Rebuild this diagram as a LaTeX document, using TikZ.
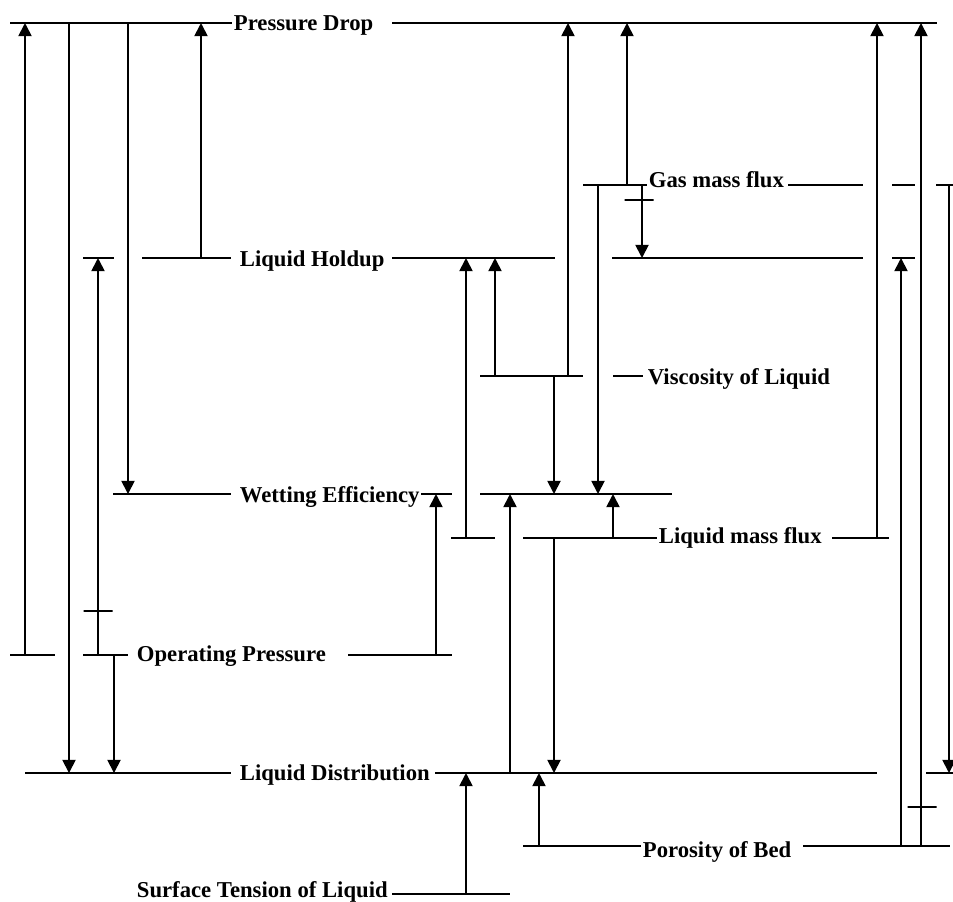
\documentclass[tikz,border=0pt]{standalone}
\usepackage{fontspec}
\setmainfont{Liberation Serif}
\usetikzlibrary{arrows.meta}
\tikzset{
  lvl/.style={anchor=base west, inner sep=0pt, font=\fontsize{11.35}{13}\selectfont\bfseries},
  link/.style={-{Triangle[width=6.6pt,length=6.6pt]}},
  tick/.style={draw, minimum width=14.5pt, minimum height=0pt, inner sep=0pt}
}
\begin{document}
\begin{tikzpicture}[x=0.5pt, y=-0.5pt, line width=0.9pt]
    \useasboundingbox (0,0) rectangle (953,901);
    \foreach \n/\y in {pd/23, gf/185, lh/258, vl/376, we/494, lf/538, op/655, ld/773, pb/846, st/894}
    {\coordinate (\n) at (0,\y);}
    \node[lvl] (pdrop) at (233,30.5) {Pressure Drop};
    \node[lvl] (gasflux) at (648,187.5) {Gas mass flux};
    \node[lvl] (holdup) at (239,266.5) {Liquid Holdup};
    \node[lvl] (visc) at (647,384.5) {Viscosity of Liquid};
    \node[lvl] (wetting) at (239,502) {Wetting Efficiency};
    \node[lvl] (liqflux) at (658,543) {Liquid mass flux};
    \node[lvl] (oppress) at (136,661) {Operating Pressure};
    \node[lvl] (liqdist) at (239,780) {Liquid Distribution};
    \node[lvl] (poros) at (642,857.5) {Porosity of Bed};
    \node[lvl] (surften) at (136,897) {Surface Tension of Liquid};
    \foreach \n/\a/\b in {pd/10/232, pd/392/937, gf/583/647, gf/788/863, gf/892/915, gf/936/953,
        lh/83/114, lh/142/231, lh/392/555, lh/612/863, lh/892/915, vl/480/583, vl/613/643,
        we/113/231, we/421/452, we/480/672, lf/451/495, lf/523/657, lf/832/889,
        op/10/55, op/83/128, op/348/452, ld/25/231, ld/435/877, ld/926/953,
        pb/523/641, pb/803/950, st/392/510}
    {\draw (\a,0 |- \n) -- (\b,0 |- \n);}
    \foreach \x/\f/\t in {25/op/pd, 69/pd/ld, 98/op/lh, 114/op/ld, 128/pd/we, 201/lh/pd,
        436/op/we, 466/lf/lh, 495/vl/lh, 568/vl/pd, 554/vl/we, 598/gf/we, 627/gf/pd,
        642/gf/lh, 510/ld/we, 613/lf/we, 554/lf/ld, 466/st/ld, 539/pb/ld, 877/lf/pd,
        901/pb/lh, 921/pb/pd, 949/gf/ld}
    {\draw[link] (\x,0 |- \f) -- (\x,0 |- \t);}
    \path (98,0 |- op) -- node[tick, pos=0.111] {} (98,0 |- lh);
    \path (639,0 |- gf) -- node[tick, pos=0.205] {} (639,0 |- lh);
    \path (922,0 |- pb) -- node[tick, pos=0.047] {} (922,0 |- pd);
\end{tikzpicture}
\end{document}
